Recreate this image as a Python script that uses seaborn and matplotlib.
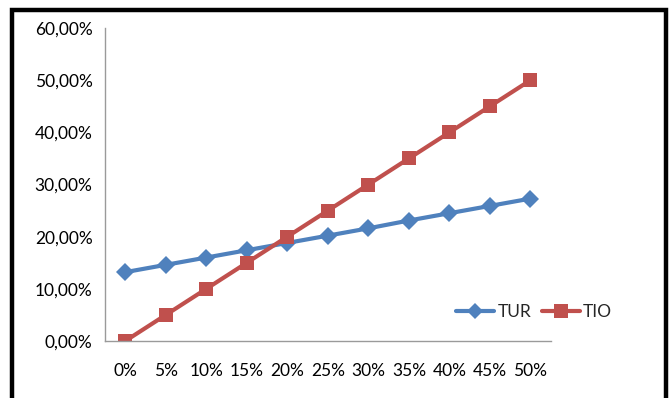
import matplotlib
matplotlib.use("Agg")
import matplotlib.pyplot as plt
from matplotlib.lines import Line2D
from matplotlib.patches import Rectangle
from matplotlib.ticker import FuncFormatter
import seaborn as sns
import pandas as pd

categories = ["0%", "5%", "10%", "15%", "20%", "25%", "30%", "35%", "40%", "45%", "50%"]
tur = [13.2, 14.6, 16.0, 17.4, 18.8, 20.2, 21.6, 23.1, 24.5, 25.9, 27.3]
tio = [0.0, 5.0, 10.0, 15.0, 20.0, 25.0, 30.0, 35.0, 40.0, 45.0, 50.0]
series_names = ["TUR", "TIO"]
colors = {"TUR": "#4F81BD", "TIO": "#C0504D"}
markers = {"TUR": "D", "TIO": "s"}
y_ticks = [0, 10, 20, 30, 40, 50, 60]

df = pd.DataFrame({
    "pos": list(range(len(categories))) * 2,
    "value": tur + tio,
    "series": ["TUR"] * len(tur) + ["TIO"] * len(tio),
})

sns.set_style("white")
plt.rcParams["font.family"] = ["Lato", "DejaVu Sans"]

fig = plt.figure(figsize=(6.7, 3.98), dpi=100)
ax = fig.add_axes([0.1567, 0.1432, 0.822 - 0.1567, 0.9296 - 0.1432])

for name in series_names:
    sub = df[df["series"] == name]
    sns.lineplot(data=sub, x="pos", y="value", ax=ax, color=colors[name],
                 marker=markers[name], markersize=9.5 if name == "TUR" else 10.5,
                 markeredgewidth=0, linewidth=3, sort=False, legend=False)

ax.set_xlim(-0.5, len(categories) - 0.5)
ax.set_ylim(0, 60)
ax.set_xticks(range(len(categories)))
ax.set_xticklabels(categories)
ax.set_yticks(y_ticks)
ax.yaxis.set_major_formatter(FuncFormatter(lambda v, p: f"{v:.2f}%".replace(".", ",")))
ax.set_xlabel("")
ax.set_ylabel("")
ax.tick_params(axis="both", length=0, labelsize=12.5, colors="black")
ax.tick_params(axis="y", pad=9)
ax.tick_params(axis="x", pad=16)

for side in ["top", "right"]:
    ax.spines[side].set_visible(False)
for side in ["left", "bottom"]:
    ax.spines[side].set_color("#9a9a9a")
    ax.spines[side].set_linewidth(1)

handles = [
    Line2D([], [], color=colors[n], marker=markers[n], linewidth=3,
           markersize=8 if n == "TUR" else 10, markeredgewidth=0)
    for n in series_names
]
fig.legend(handles, series_names, loc="center", bbox_to_anchor=(0.797, 0.216),
           ncol=2, frameon=False, fontsize=12.5, handlelength=2.2,
           handletextpad=0.2, columnspacing=0.6)

# heavy frame around the whole chart
fig.patches.append(Rectangle((11.5 / 670, -0.1), (666 - 11.5) / 670, 1.1 - 9.5 / 398,
                             transform=fig.transFigure, fill=False,
                             edgecolor="black", linewidth=3.2, zorder=10))

fig.savefig("out.png", dpi=100, facecolor="white")
